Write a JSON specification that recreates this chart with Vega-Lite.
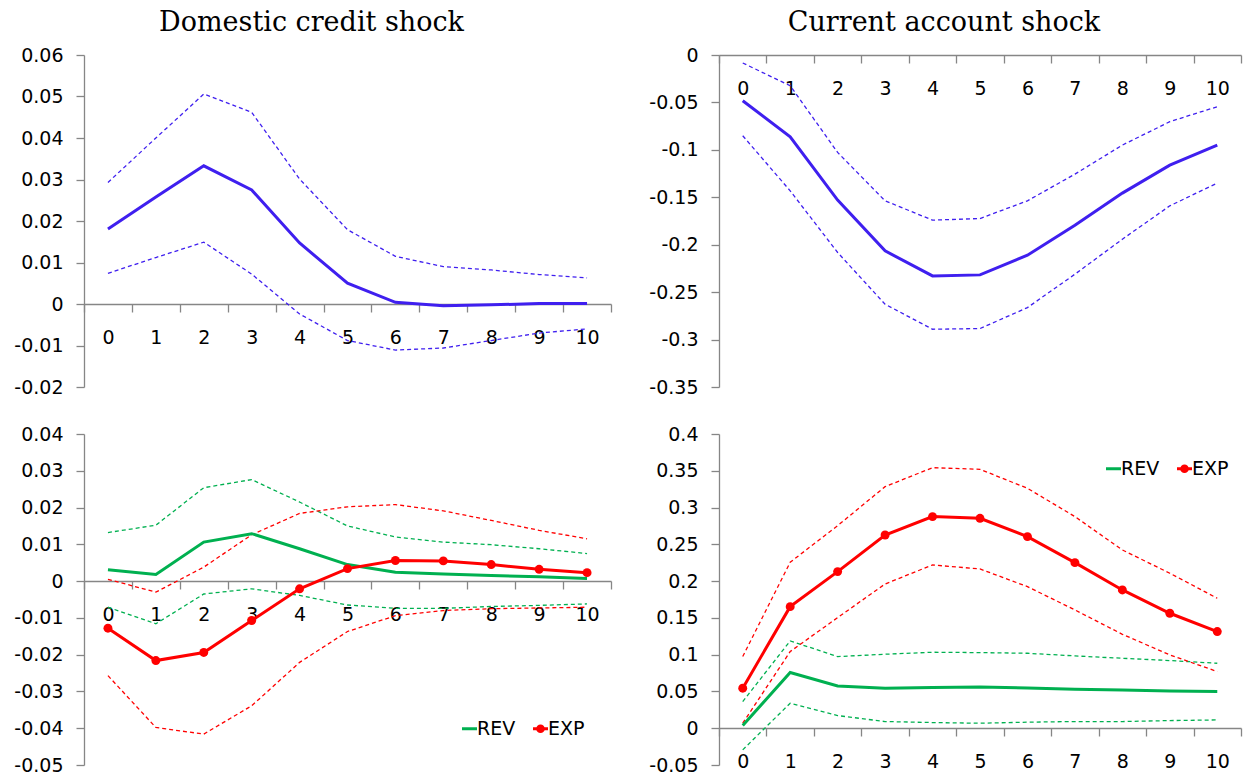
{
  "$schema": "https://vega.github.io/schema/vega-lite/v6.json",
  "background": "white",
  "padding": {"left": 13, "top": 9, "right": 5, "bottom": 5},
  "datasets": {
    "tl": [
      {"h": 0, "mid": 0.0181, "hi": 0.0293, "lo": 0.0074},
      {"h": 1, "mid": 0.0258, "hi": 0.0400, "lo": 0.0112},
      {"h": 2, "mid": 0.0333, "hi": 0.0506, "lo": 0.0149},
      {"h": 3, "mid": 0.0275, "hi": 0.0462, "lo": 0.0072},
      {"h": 4, "mid": 0.0147, "hi": 0.0301, "lo": -0.0024},
      {"h": 5, "mid": 0.0050, "hi": 0.0179, "lo": -0.0088},
      {"h": 6, "mid": 0.0004, "hi": 0.0115, "lo": -0.0111},
      {"h": 7, "mid": -0.0004, "hi": 0.0090, "lo": -0.0106},
      {"h": 8, "mid": -0.0002, "hi": 0.0082, "lo": -0.0088},
      {"h": 9, "mid": 0.0001, "hi": 0.0071, "lo": -0.0070},
      {"h": 10, "mid": 0.0001, "hi": 0.0063, "lo": -0.0060}
    ],
    "tr": [
      {"h": 0, "mid": -0.0482, "hi": -0.0084, "lo": -0.0851},
      {"h": 1, "mid": -0.0862, "hi": -0.0324, "lo": -0.1432},
      {"h": 2, "mid": -0.1530, "hi": -0.1027, "lo": -0.2082},
      {"h": 3, "mid": -0.2065, "hi": -0.1537, "lo": -0.2628},
      {"h": 4, "mid": -0.2329, "hi": -0.1741, "lo": -0.2891},
      {"h": 5, "mid": -0.2318, "hi": -0.1724, "lo": -0.2884},
      {"h": 6, "mid": -0.2110, "hi": -0.1537, "lo": -0.2663},
      {"h": 7, "mid": -0.1794, "hi": -0.1256, "lo": -0.2311},
      {"h": 8, "mid": -0.1456, "hi": -0.0950, "lo": -0.1942},
      {"h": 9, "mid": -0.1161, "hi": -0.0703, "lo": -0.1590},
      {"h": 10, "mid": -0.0950, "hi": -0.0545, "lo": -0.1351}
    ],
    "bl": [
      {"s": "REV", "h": 0, "mid": 0.0031, "hi": 0.0132, "lo": -0.0071},
      {"s": "REV", "h": 1, "mid": 0.0018, "hi": 0.0152, "lo": -0.0116},
      {"s": "REV", "h": 2, "mid": 0.0106, "hi": 0.0254, "lo": -0.0035},
      {"s": "REV", "h": 3, "mid": 0.0129, "hi": 0.0276, "lo": -0.0021},
      {"s": "REV", "h": 4, "mid": 0.0088, "hi": 0.0215, "lo": -0.0039},
      {"s": "REV", "h": 5, "mid": 0.0045, "hi": 0.0150, "lo": -0.0065},
      {"s": "REV", "h": 6, "mid": 0.0024, "hi": 0.0120, "lo": -0.0074},
      {"s": "REV", "h": 7, "mid": 0.0019, "hi": 0.0106, "lo": -0.0074},
      {"s": "REV", "h": 8, "mid": 0.0015, "hi": 0.0099, "lo": -0.0069},
      {"s": "REV", "h": 9, "mid": 0.0012, "hi": 0.0088, "lo": -0.0066},
      {"s": "REV", "h": 10, "mid": 0.0007, "hi": 0.0075, "lo": -0.0062},
      {"s": "EXP", "h": 0, "mid": -0.0128, "hi": 0.0005, "lo": -0.0257},
      {"s": "EXP", "h": 1, "mid": -0.0216, "hi": -0.0030, "lo": -0.0398},
      {"s": "EXP", "h": 2, "mid": -0.0194, "hi": 0.0038, "lo": -0.0416},
      {"s": "EXP", "h": 3, "mid": -0.0107, "hi": 0.0126, "lo": -0.0339},
      {"s": "EXP", "h": 4, "mid": -0.0021, "hi": 0.0184, "lo": -0.0221},
      {"s": "EXP", "h": 5, "mid": 0.0034, "hi": 0.0202, "lo": -0.0137},
      {"s": "EXP", "h": 6, "mid": 0.0056, "hi": 0.0208, "lo": -0.0094},
      {"s": "EXP", "h": 7, "mid": 0.0055, "hi": 0.0191, "lo": -0.0080},
      {"s": "EXP", "h": 8, "mid": 0.0045, "hi": 0.0165, "lo": -0.0075},
      {"s": "EXP", "h": 9, "mid": 0.0032, "hi": 0.0138, "lo": -0.0073},
      {"s": "EXP", "h": 10, "mid": 0.0023, "hi": 0.0115, "lo": -0.0071}
    ],
    "br": [
      {"s": "REV", "h": 0, "mid": 0.0036, "hi": 0.0362, "lo": -0.0294},
      {"s": "REV", "h": 1, "mid": 0.0757, "hi": 0.1187, "lo": 0.0340},
      {"s": "REV", "h": 2, "mid": 0.0575, "hi": 0.0974, "lo": 0.0172},
      {"s": "REV", "h": 3, "mid": 0.0544, "hi": 0.1006, "lo": 0.0091},
      {"s": "REV", "h": 4, "mid": 0.0553, "hi": 0.1033, "lo": 0.0077},
      {"s": "REV", "h": 5, "mid": 0.0562, "hi": 0.1028, "lo": 0.0068},
      {"s": "REV", "h": 6, "mid": 0.0548, "hi": 0.1019, "lo": 0.0082},
      {"s": "REV", "h": 7, "mid": 0.0530, "hi": 0.0983, "lo": 0.0091},
      {"s": "REV", "h": 8, "mid": 0.0521, "hi": 0.0951, "lo": 0.0091},
      {"s": "REV", "h": 9, "mid": 0.0507, "hi": 0.0920, "lo": 0.0104},
      {"s": "REV", "h": 10, "mid": 0.0498, "hi": 0.0883, "lo": 0.0113},
      {"s": "EXP", "h": 0, "mid": 0.0544, "hi": 0.0974, "lo": 0.0068},
      {"s": "EXP", "h": 1, "mid": 0.1653, "hi": 0.2256, "lo": 0.1042},
      {"s": "EXP", "h": 2, "mid": 0.2129, "hi": 0.2754, "lo": 0.1504},
      {"s": "EXP", "h": 3, "mid": 0.2627, "hi": 0.3284, "lo": 0.1961},
      {"s": "EXP", "h": 4, "mid": 0.2877, "hi": 0.3542, "lo": 0.2220},
      {"s": "EXP", "h": 5, "mid": 0.2854, "hi": 0.3520, "lo": 0.2165},
      {"s": "EXP", "h": 6, "mid": 0.2605, "hi": 0.3262, "lo": 0.1925},
      {"s": "EXP", "h": 7, "mid": 0.2251, "hi": 0.2877, "lo": 0.1608},
      {"s": "EXP", "h": 8, "mid": 0.1880, "hi": 0.2424, "lo": 0.1277},
      {"s": "EXP", "h": 9, "mid": 0.1563, "hi": 0.2107, "lo": 0.0997},
      {"s": "EXP", "h": 10, "mid": 0.1314, "hi": 0.1767, "lo": 0.0770}
    ]
  },
  "resolve": {"scale": {"color": "independent"}, "legend": {"color": "independent"}},
  "spacing": 28,
  "vconcat": [
    {
      "spacing": 36,
      "resolve": {"scale": {"color": "independent"}, "legend": {"color": "independent"}},
      "hconcat": [
        {
          "width": 527, "height": 332,
          "title": {"text": "Domestic credit shock"},
          "data": {"name": "tl"},
          "transform": [{"fold": ["hi", "lo", "mid"], "as": ["key", "val"]}],
          "encoding": {
            "x": {"field": "h", "type": "ordinal", "scale": {"type": "band", "paddingInner": 0, "paddingOuter": 0}, "axis": {"offset": -83}},
            "y": {"field": "val", "type": "quantitative", "scale": {"domain": [-0.02, 0.06], "nice": false, "zero": false},
                  "axis": {"values": [-0.02, -0.01, 0, 0.01, 0.02, 0.03, 0.04, 0.05, 0.06]}}
          },
          "layer": [
            {"transform": [{"filter": "datum.key !== 'mid'"}],
             "mark": {"type": "line", "color": "#3F1FEF", "strokeWidth": 1.3, "strokeDash": [4, 3]},
             "encoding": {"detail": {"field": "key"}}},
            {"transform": [{"filter": "datum.key === 'mid'"}],
             "mark": {"type": "line", "color": "#3F1FEF", "strokeWidth": 3},
             "encoding": {}}
          ]
        },
        {
          "width": 522, "height": 332,
          "title": {"text": "Current account shock"},
          "data": {"name": "tr"},
          "transform": [{"fold": ["hi", "lo", "mid"], "as": ["key", "val"]}],
          "encoding": {
            "x": {"field": "h", "type": "ordinal", "scale": {"type": "band", "paddingInner": 0, "paddingOuter": 0}, "axis": {"offset": -332}},
            "y": {"field": "val", "type": "quantitative", "scale": {"domain": [-0.35, 0], "nice": false, "zero": false},
                  "axis": {"values": [-0.35, -0.3, -0.25, -0.2, -0.15, -0.1, -0.05, 0]}}
          },
          "layer": [
            {"transform": [{"filter": "datum.key !== 'mid'"}],
             "mark": {"type": "line", "color": "#3F1FEF", "strokeWidth": 1.3, "strokeDash": [4, 3]},
             "encoding": {"detail": {"field": "key"}}},
            {"transform": [{"filter": "datum.key === 'mid'"}],
             "mark": {"type": "line", "color": "#3F1FEF", "strokeWidth": 3},
             "encoding": {}}
          ]
        }
      ]
    },
    {
      "spacing": 36,
      "resolve": {"scale": {"color": "independent"}, "legend": {"color": "independent"}},
      "hconcat": [
        {
          "width": 527, "height": 331,
          "data": {"name": "bl"},
          "transform": [{"fold": ["hi", "lo", "mid"], "as": ["key", "val"]}],
          "encoding": {
            "x": {"field": "h", "type": "ordinal", "scale": {"type": "band", "paddingInner": 0, "paddingOuter": 0}, "axis": {"offset": -184}},
            "y": {"field": "val", "type": "quantitative", "scale": {"domain": [-0.05, 0.04], "nice": false, "zero": false},
                  "axis": {"values": [-0.05, -0.04, -0.03, -0.02, -0.01, 0, 0.01, 0.02, 0.03, 0.04]}},
            "color": {"field": "s", "type": "nominal", "scale": {"domain": ["REV", "EXP"], "range": ["#00B050", "#FF0000"]},
                      "legend": {"orient": "none", "legendX": 376, "legendY": 285,
                        "encode": {"symbols": {"update": {
                          "shape": {"signal": "datum.value === 'EXP' ? 'M-1,0H1M-0.38,0A0.38,0.38,0,1,0,0.38,0A0.38,0.38,0,1,0,-0.38,0Z' : 'M-1,0H1'"},
                          "fill": {"signal": "datum.value === 'EXP' ? '#FF0000' : 'transparent'"},
                          "stroke": {"signal": "datum.value === 'EXP' ? '#FF0000' : '#00B050'"}}}}}}
          },
          "layer": [
            {"transform": [{"filter": "datum.key !== 'mid'"}],
             "mark": {"type": "line", "strokeWidth": 1.3, "strokeDash": [4, 3]},
             "encoding": {"detail": {"field": "key"}}},
            {"transform": [{"filter": "datum.key === 'mid'"}],
             "mark": {"type": "line", "strokeWidth": 3},
             "encoding": {}},
            {"transform": [{"filter": "datum.key === 'mid' && datum.s === 'EXP'"}],
             "mark": {"type": "point", "filled": true, "size": 80, "opacity": 1},
             "encoding": {}}
          ]
        },
        {
          "width": 522, "height": 331,
          "data": {"name": "br"},
          "transform": [{"fold": ["hi", "lo", "mid"], "as": ["key", "val"]}],
          "encoding": {
            "x": {"field": "h", "type": "ordinal", "scale": {"type": "band", "paddingInner": 0, "paddingOuter": 0}, "axis": {"offset": -37}},
            "y": {"field": "val", "type": "quantitative", "scale": {"domain": [-0.05, 0.4], "nice": false, "zero": false},
                  "axis": {"values": [-0.05, 0, 0.05, 0.1, 0.15, 0.2, 0.25, 0.3, 0.35, 0.4]}},
            "color": {"field": "s", "type": "nominal", "scale": {"domain": ["REV", "EXP"], "range": ["#00B050", "#FF0000"]},
                      "legend": {"orient": "none", "legendX": 385, "legendY": 25,
                        "encode": {"symbols": {"update": {
                          "shape": {"signal": "datum.value === 'EXP' ? 'M-1,0H1M-0.38,0A0.38,0.38,0,1,0,0.38,0A0.38,0.38,0,1,0,-0.38,0Z' : 'M-1,0H1'"},
                          "fill": {"signal": "datum.value === 'EXP' ? '#FF0000' : 'transparent'"},
                          "stroke": {"signal": "datum.value === 'EXP' ? '#FF0000' : '#00B050'"}}}}}}
          },
          "layer": [
            {"transform": [{"filter": "datum.key !== 'mid'"}],
             "mark": {"type": "line", "strokeWidth": 1.3, "strokeDash": [4, 3]},
             "encoding": {"detail": {"field": "key"}}},
            {"transform": [{"filter": "datum.key === 'mid'"}],
             "mark": {"type": "line", "strokeWidth": 3},
             "encoding": {}},
            {"transform": [{"filter": "datum.key === 'mid' && datum.s === 'EXP'"}],
             "mark": {"type": "point", "filled": true, "size": 80, "opacity": 1},
             "encoding": {}}
          ]
        }
      ]
    }
  ],
  "config": {
    "view": {"stroke": null},
    "font": "DejaVu Sans",
    "title": {"font": "DejaVu Serif", "fontSize": 27, "fontWeight": "normal", "color": "black", "anchor": "middle", "offset": 9, "dx": -36},
    "axis": {
      "title": null, "grid": false, "labelAngle": 0,
      "domainColor": "#868686", "tickColor": "#868686", "domainWidth": 1.3, "tickWidth": 1.3,
      "tickSize": 8, "labelFont": "DejaVu Sans", "labelFontSize": 19, "labelColor": "black",
      "labelFlush": false, "labelOverlap": false, "format": "~g",
      "labelExpr": "replace(datum.label, '\u2212', '-')"
    },
    "axisX": {"tickBand": "extent", "labelPadding": 16},
    "axisY": {"labelPadding": 13},
    "legend": {
      "title": null, "direction": "horizontal", "symbolSize": 225, "symbolStrokeWidth": 3,
      "labelOffset": -2, "columnPadding": 11, "labelFont": "DejaVu Sans", "labelFontSize": 19,
      "labelColor": "black", "padding": 0, "symbolType": "stroke"
    }
  }
}
